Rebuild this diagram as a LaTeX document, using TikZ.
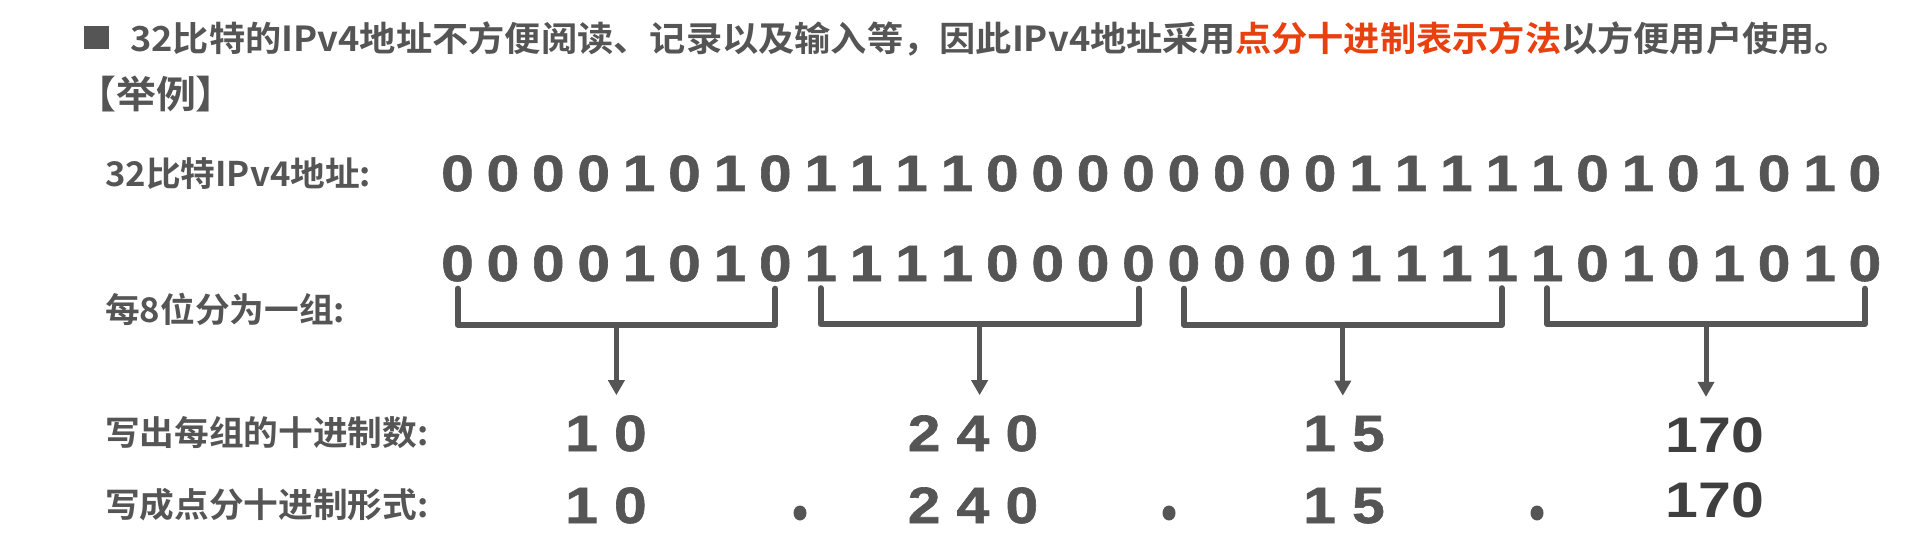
\documentclass[tikz,border=0pt]{standalone}
\usepackage{fontspec}
\usetikzlibrary{arrows.meta,shapes.geometric}
\newfontfamily\cjk{Noto Sans CJK SC Bold}[FakeStretch=1.02]
\newfontfamily\cjkhead{Noto Sans CJK SC Bold}[FakeStretch=1.05]
\newfontfamily\bitfont{Liberation Sans Bold}[FakeStretch=1.15, FakeBold=1.2]
\newfontfamily\numfont{Liberation Sans Bold}[FakeStretch=1.18]
\definecolor{textgray}{HTML}{555555}
\definecolor{numgray}{HTML}{3F3F3F}
\definecolor{titlered}{HTML}{E8400F}
\newcommand{\bitsone}{0,0,0,0,1,0,1,0,1,1,1,1,0,0,0,0,0,0,0,0,1,1,1,1,1,0,1,0,1,0,1,0}

\begin{document}
\begin{tikzpicture}[x=1pt, y=-1pt,
  rowlabel/.style={anchor=west, inner sep=0pt, text=textgray, font=\cjk\fontsize{34}{40}\selectfont},
  bit/.style={anchor=base, inner sep=0pt, text=textgray, font=\bitfont\fontsize{51}{60}\selectfont},
  brace/.style={draw=textgray, line width=6pt, line cap=round, line join=round},
  arr/.style={draw=textgray, line width=5pt, -{Triangle[width=16pt,length=15pt]}},
  sepdot/.style={ellipse, fill=textgray, minimum width=13pt, minimum height=15pt, inner sep=0pt}]
\fill[white] (0,0) rectangle (1920,548);
\useasboundingbox (0,0) rectangle (1920,548);

% heading
\node[fill=textgray, minimum width=25pt, minimum height=23pt, inner sep=0pt] (mark) at (96,38) {};
\node[anchor=west, inner sep=0pt, text=textgray, font=\cjkhead\fontsize{34.5}{40}\selectfont] (title) at (130,39) {32比特的IPv4地址不方便阅读、记录以及输入等，因此IPv4地址采用{\color{titlered}点分十进制表示方法}以方便用户使用。};
\node[rowlabel, font=\cjkhead\fontsize{38}{44}\selectfont] (example) at (76,94) {【举例】};

% row labels
\node[rowlabel] (lbits) at (105,174) {32比特IPv4地址:};
\node[rowlabel] (lgroup) at (105,309) {每8位分为一组:};
\node[rowlabel] (ldec) at (105,433) {写出每组的十进制数:};
\node[rowlabel] (ldot) at (105,505) {写成点分十进制形式:};

% the 32 bits, twice
\foreach \b [count=\i from 0] in \bitsone {
  \node[bit] (a\i) at ({457.5+45.4*\i},191) {\b};
  \node[bit] (d\i) at ({457.5+45.4*\i},281) {\b};
}

% decimal values
\node[bit] (n0) at (606,451) {1 0};
\node[bit] (n1) at (973,451) {2 4 0};
\node[bit] (n2) at (1344,451) {1 5};
\node[bit, text=numgray, font=\numfont\fontsize{50}{58}\selectfont] (n3) at (1715,452) {170};
\node[bit] (m0) at (606,523) {1 0};
\node[bit] (m1) at (973,523) {2 4 0};
\node[bit] (m2) at (1344,523) {1 5};
\node[bit, text=numgray, font=\numfont\fontsize{50}{58}\selectfont] (m3) at (1715,517) {170};
\node[sepdot] (p0) at (800,513) {};
\node[sepdot] (p1) at (1169,513) {};
\node[sepdot] (p2) at (1537,513) {};

% brackets and arrows
\foreach \g in {0,1,2,3} {
  \pgfmathtruncatemacro{\s}{8*\g}
  \pgfmathtruncatemacro{\e}{8*\g+7}
  \draw[brace] ([yshift=-7pt]d\s.south) -- ++(0,36) -| ([yshift=-7pt]d\e.south) coordinate[pos=0.25] (g\g);
  \draw[arr, shorten >=20pt] (g\g) -- (g\g |- n\g.north);
}
\end{tikzpicture}
\end{document}
